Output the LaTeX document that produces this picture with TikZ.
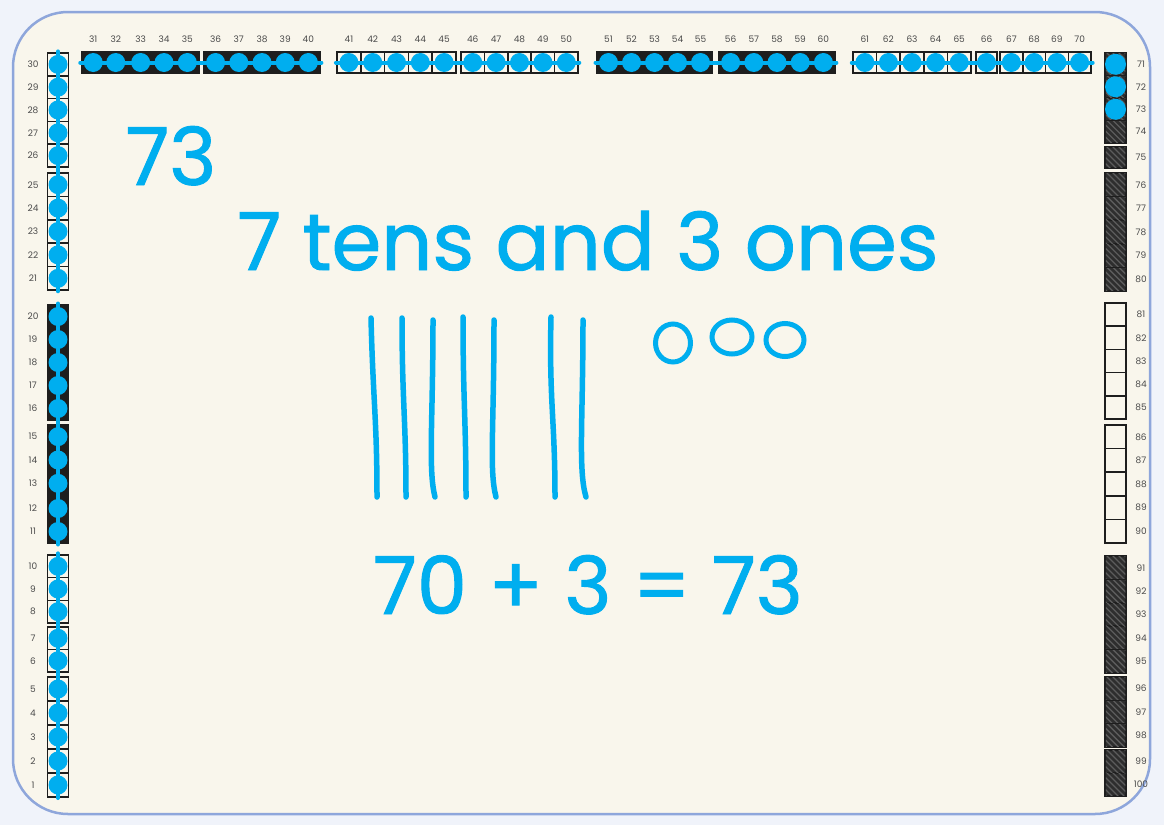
\documentclass[tikz,border=0pt]{standalone}
\usepackage{fontspec}
\setmainfont{Poppins}
\newfontfamily\penfont[FakeBold=1.2]{Poppins}
\definecolor{pen}{HTML}{00AEEF}
\definecolor{board}{HTML}{F9F6EC}
\definecolor{rim}{HTML}{8EA6DB}
\definecolor{outside}{HTML}{F0F3FA}
\definecolor{ink}{HTML}{1E1E1E}
\definecolor{hatchc}{HTML}{5C5C5C}
\definecolor{darkc}{HTML}{2E2E2E}
\definecolor{tagc}{HTML}{4A4A4A}
\begin{document}
\begin{tikzpicture}[x=1pt, y=-1pt,
    cell/.style={draw=ink, line width=1.5pt, inner sep=0pt, minimum width=21pt},
    tag/.style={text=tagc, font=\fontsize{9}{10}\selectfont, inner sep=0pt},
    hatchline/.style={draw=hatchc, line width=1.3pt},
    penline/.style={draw=pen, line width=4pt, line cap=round, shorten <=-13pt, shorten >=-13pt},
    tally/.style={draw=pen, line width=5.5pt, line cap=round},
    ring/.style={draw=pen, line width=5pt},
    big/.style={text=pen, font=\penfont\fontsize{80}{80}\selectfont, inner sep=0pt, anchor=base}]

    \fill[outside] (0,0) rectangle (1164,825);
    \draw[rim, fill=board, line width=2.5pt, rounded corners=55pt] (13,12) rectangle (1150,814);

    \foreach \s/\e/\ya/\yb in {1/5/677/797, 6/7/627/672, 8/10/555/623, 11/12/497/543,
        13/15/425/495, 16/20/305/420, 21/25/173/290, 26/30/53/167} {
        \pgfmathsetmacro\h{(\yb-\ya)/(\e-\s+1)}
        \foreach \n in {\s,...,\e} {
            \pgfmathsetmacro\yc{\ya+(\e-\n+0.5)*\h}
            \pgfmathtruncatemacro\dec{mod(floor((\n-1)/10),2)}
            \ifnum\dec=1 \def\cellcol{ink}\else\def\cellcol{board}\fi
            \node[cell, minimum height=\h pt, fill=\cellcol] (c\n) at (58,\yc) {};
            \node[tag] (t\n) at (33,\yc) {\n};
        }
    }
    \foreach \s/\e/\xa/\xb in {31/32/82/127, 33/35/129/199, 36/40/204/320, 41/45/337/456,
        46/50/461/578, 51/55/597/712, 56/60/719/835, 61/65/853/971, 66/66/976/997, 67/70/1000/1091} {
        \pgfmathsetmacro\w{(\xb-\xa)/(\e-\s+1)}
        \foreach \n in {\s,...,\e} {
            \pgfmathsetmacro\xc{\xa+(\n-\s+0.5)*\w}
            \pgfmathtruncatemacro\dec{mod(floor((\n-1)/10),2)}
            \ifnum\dec=1 \def\cellcol{ink}\else\def\cellcol{board}\fi
            \node[cell, minimum width=\w pt, minimum height=21pt, fill=\cellcol] (c\n) at (\xc,62.5) {};
            \node[tag] (t\n) at (\xc,39) {\n};
        }
    }
    \foreach \s/\e/\ya/\yb in {71/74/53/143, 75/75/147/168, 76/80/173/291, 81/85/303/419,
        86/90/425/543, 91/95/556/673, 96/98/677/747, 99/100/750/796} {
        \pgfmathsetmacro\h{(\yb-\ya)/(\e-\s+1)}
        \foreach \n in {\s,...,\e} {
            \pgfmathsetmacro\yc{\ya+(\n-\s+0.5)*\h}
            \pgfmathtruncatemacro\dec{mod(floor((\n-1)/10),2)}
            \ifnum\dec=1 \def\cellcol{darkc}\else\def\cellcol{board}\fi
            \node[cell, minimum height=\h pt, fill=\cellcol] (c\n) at (1115.5,\yc) {};
            \node[tag] (t\n) at (1141,\yc) {\n};
        }
    }
    \foreach \n in {71,72,...,80,91,92,...,100} {
        \begin{scope}
            \clip ([shift={(1.5,-1.5)}]c\n.south west) rectangle ([shift={(-1.5,1.5)}]c\n.north east);
            \foreach \k in {-28,-22,...,22}
                \draw[hatchline] ([xshift=\k pt]c\n.north west) -- ++(30,30);
        \end{scope}
    }

    \foreach \a/\b in {1/10, 11/20, 21/30, 31/40, 41/50, 51/60, 61/70}
        \draw[penline] (c\a.center) -- (c\b.center);
    \foreach \n in {1,...,70}
        \fill[pen] (c\n.center) circle (9.5);
    \foreach \n in {71,72,73}
        \fill[pen] (c\n.center) circle (10.5);

    \node[big] (num) at (171,185) {73};
    \node[big] (words) at (588,270) {7 tens and 3 ones};
    \node[big] (sum) at (588,614) {70 + 3 = 73};

    \draw[tally] (371,318) .. controls (373,400) and (377,420) .. (377,497);
    \draw[tally] (402,318) .. controls (402,400) and (406,420) .. (406,497);
    \draw[tally] (433,320) .. controls (433,420) and (428,470) .. (435,497);
    \draw[tally] (463,317) .. controls (463,400) and (466,420) .. (466,497);
    \draw[tally] (494,320) .. controls (494,430) and (489,470) .. (496,497);
    \draw[tally] (551,317) .. controls (549,400) and (555,420) .. (555,497);
    \draw[tally] (583,320) .. controls (583,420) and (578,470) .. (586,497);

    \draw[ring] (673,343) ellipse (17.5 and 19);
    \draw[ring] (732,337) ellipse (20 and 17);
    \draw[ring] (785,340) ellipse (19 and 16.5);
\end{tikzpicture}
\end{document}
